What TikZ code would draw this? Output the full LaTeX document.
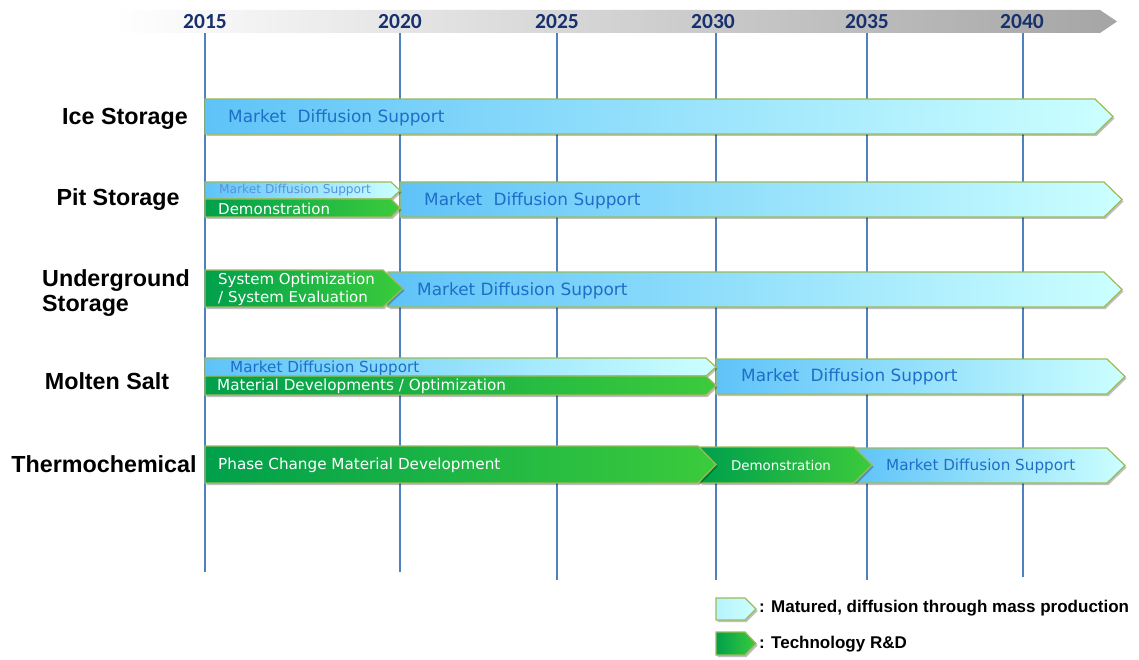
\documentclass[tikz,border=0pt]{standalone}
\usepackage{fontspec}
\setmainfont{DejaVu Sans}
\newfontfamily\labfont{Liberation Sans}
\newfontfamily\yrfont{Carlito}
\usetikzlibrary{shadows}
\definecolor{bord}{HTML}{9BBB59}
\definecolor{bla}{HTML}{5FC3F8}
\definecolor{blb}{HTML}{CCFFFF}
\definecolor{gra}{HTML}{00A04C}
\definecolor{grb}{HTML}{3CCB3C}
\definecolor{txtb}{HTML}{1E6EC8}
\definecolor{txtl}{HTML}{5A90E0}
\definecolor{vline}{HTML}{4F81BD}
\definecolor{navy}{HTML}{17306E}
\definecolor{bandr}{HTML}{A5A5A5}
\newcommand\chev[7]{%
  \path[#7] (#2,#4) -- ({#3-#6},#4) -- (#3,{(#4+#5)/2}) -- ({#3-#6},#5) -- (#2,#5) -- cycle;
  \coordinate (#1) at (#2,{(#4+#5)/2});}
\tikzset{
  shad/.style={drop shadow={shadow xshift=1.5pt,shadow yshift=-2pt,opacity=0.25,fill=black}},
  bluearrow/.style={shad,left color=bla,right color=blb,draw=bord,line width=1.2pt},
  greenarrow/.style={shad,left color=gra,right color=grb,draw=bord,line width=1.2pt},
  legblue/.style={shad,left color=blb!80!bla,right color=blb,draw=bord,line width=1.2pt},
  band/.style={left color=white,right color=bandr,draw=none},
  yearline/.style={draw=vline,line width=1.1pt},
  yearlab/.style={text=navy,font=\yrfont\bfseries\fontsize{21.5}{25}\selectfont,inner sep=0pt},
  rowlab/.style={font=\labfont\bfseries\fontsize{23.3}{27}\selectfont,inner sep=0pt},
  btext/.style={anchor=west,text=txtb,inner sep=0pt},
  gtext/.style={anchor=west,text=white,inner sep=0pt},
  legtext/.style={anchor=west,font=\labfont\bfseries\fontsize{17}{20}\selectfont,inner sep=0pt}
}
\begin{document}
\begin{tikzpicture}[x=1pt,y=-1pt]
\useasboundingbox (0,0) rectangle (1139,660);
% vertical year lines
\draw[yearline] (205,33) coordinate (l15a) -- (205,572) coordinate (l15b);
\draw[yearline] (400,33) coordinate (l20a) -- (400,572) coordinate (l20b);
\draw[yearline] (557,33) coordinate (l25a) -- (557,580) coordinate (l25b);
\draw[yearline] (716,33) coordinate (l30a) -- (716,580) coordinate (l30b);
\draw[yearline] (867,33) coordinate (l35a) -- (867,580) coordinate (l35b);
\draw[yearline] (1023,33) coordinate (l40a) -- (1023,577) coordinate (l40b);
% timeline band
\chev{bandc}{115}{1117}{10}{33}{17}{band}
\node[yearlab] (y15) at (205,21.5) {2015};
\node[yearlab] (y20) at (400,21.5) {2020};
\node[yearlab] (y25) at (557,21.5) {2025};
\node[yearlab] (y30) at (713,21.5) {2030};
\node[yearlab] (y35) at (867,21.5) {2035};
\node[yearlab] (y40) at (1022,21.5) {2040};
% row labels
\node[rowlab] (ice) at (125,119) {Ice Storage};
\node[rowlab] (pit) at (118,200) {Pit Storage};
\node[rowlab,anchor=west,align=left,font=\labfont\bfseries\fontsize{23.3}{24.5}\selectfont] (under) at (42,293) {Underground\\Storage};
\node[rowlab] (molten) at (107,381) {Molten Salt};
\node[rowlab] (thermo) at (104,464) {Thermochemical};
% Ice storage
\chev{iceA}{205}{1113}{99}{134}{18}{bluearrow}
\node[btext,font=\fontsize{16.9}{19}\selectfont] (iceT) at (228,117.5) {Market\hspace{0.35em} Diffusion Support};
% Pit storage
\chev{pitC}{400}{1122}{182}{217}{18}{bluearrow}
\node[btext,font=\fontsize{16.9}{19}\selectfont] (pitCT) at (424,200.5) {Market\hspace{0.35em} Diffusion Support};
\chev{pitA}{205}{400}{182}{199}{9}{bluearrow}
\node[btext,text=txtl,font=\fontsize{12.2}{14}\selectfont] (pitAT) at (219,190.5) {Market Diffusion Support};
\chev{pitB}{205}{400}{199}{217}{9}{greenarrow}
\node[gtext,font=\fontsize{15}{18}\selectfont] (pitBT) at (218,208.5) {Demonstration};
% Underground
\chev{undB}{388}{1122}{272}{307}{18}{bluearrow}
\node[btext,font=\fontsize{16.9}{19}\selectfont] (undBT) at (417,290.5) {Market Diffusion Support};
\chev{undA}{205}{403}{270}{307}{20}{greenarrow}
\node[gtext,align=left,font=\fontsize{15}{18}\selectfont] (undAT) at (218,289.5) {System Optimization\\/ System Evaluation};
% Molten salt
\chev{molC}{716}{1125}{359}{394}{18}{bluearrow}
\node[btext,font=\fontsize{16.9}{19}\selectfont] (molCT) at (741,376.5) {Market\hspace{0.35em} Diffusion Support};
\chev{molA}{205}{716}{358}{376}{10}{bluearrow}
\node[btext,font=\fontsize{15.2}{18}\selectfont] (molAT) at (230,368) {Market Diffusion Support};
\chev{molB}{205}{716}{376}{395}{10}{greenarrow}
\node[gtext,font=\fontsize{15.2}{18}\selectfont] (molBT) at (217,386) {Material Developments / Optimization};
% Thermochemical
\chev{thC}{855}{1125}{448}{483}{18}{bluearrow}
\node[btext,font=\fontsize{15.2}{18}\selectfont] (thCT) at (886,466) {Market Diffusion Support};
\chev{thB}{700}{872}{447}{483}{18}{greenarrow}
\node[text=white,inner sep=0pt,font=\fontsize{13.4}{16}\selectfont] (thBT) at (781,466) {Demonstration};
\chev{thA}{205}{716}{446}{483}{18}{greenarrow}
\node[gtext,font=\fontsize{15.2}{18}\selectfont] (thAT) at (218,465) {Phase Change Material Development};
% legend
\chev{legA}{716}{756}{598}{620}{11}{legblue}
\node[legtext] (legAT) at (759,608) {: Matured, diffusion through mass production};
\chev{legB}{716}{756}{632}{655}{11}{greenarrow}
\node[legtext] (legBT) at (759,644) {: Technology R\&D};
\end{tikzpicture}
\end{document}
